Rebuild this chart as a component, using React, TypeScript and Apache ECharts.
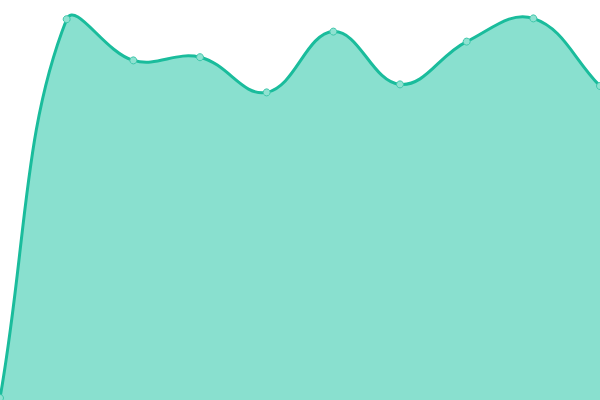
import * as echarts from "echarts";
import { useEffect, useRef } from "react";

const categories = ["1", "2", "3", "4", "5", "6", "7", "8", "9", "10"];
const values = [0.5, 95.2, 84.9, 85.7, 76.9, 92.1, 78.9, 89.6, 95.4, 78.5];

const lineColor = "#1abc9c";
const fillColor = "#89e0cf";
const tension = 0.4;

// spline through the points, with control points clamped to the plot box
function splinePath(pts: number[][], box: { x0: number; y0: number; x1: number; y1: number }) {
	const clampX = (v: number) => Math.min(box.x1, Math.max(box.x0, v));
	const clampY = (v: number) => Math.min(box.y1, Math.max(box.y0, v));
	const cps = pts.map((p, i) => {
		const prev = pts[i - 1] || p;
		const next = pts[i + 1] || p;
		const d01 = Math.hypot(p[0] - prev[0], p[1] - prev[1]);
		const d12 = Math.hypot(next[0] - p[0], next[1] - p[1]);
		const sum = d01 + d12;
		const fa = sum ? (tension * d01) / sum : 0;
		const fb = sum ? (tension * d12) / sum : 0;
		const dx = next[0] - prev[0];
		const dy = next[1] - prev[1];
		return {
			before: [clampX(p[0] - fa * dx), clampY(p[1] - fa * dy)],
			after: [clampX(p[0] + fb * dx), clampY(p[1] + fb * dy)],
		};
	});
	let d = `M${pts[0][0]},${pts[0][1]}`;
	for (let i = 1; i < pts.length; i++) {
		const a = cps[i - 1].after;
		const b = cps[i].before;
		d += ` C${a[0]},${a[1]} ${b[0]},${b[1]} ${pts[i][0]},${pts[i][1]}`;
	}
	return d;
}

export default function App() {
	const ref = useRef<HTMLDivElement>(null);
	useEffect(() => {
		document.body.style.margin = "0";
		if (!ref.current) return;
		const chart = echarts.init(ref.current, null, { renderer: "svg" });
		chart.setOption({
			animation: false,
			grid: { left: 0, right: 0, top: 0, bottom: 0 },
			xAxis: {
				type: "category",
				data: categories,
				boundaryGap: false,
				show: false,
			},
			yAxis: { type: "value", min: 0, max: 100, show: false },
			series: [
				{
					type: "custom",
					data: [0],
					silent: true,
					renderItem: (params: any, api: any) => {
						const pts = values.map((v, i) => api.coord([i, v]));
						const base = api.coord([0, 0])[1];
						const cs = params.coordSys;
						const box = { x0: cs.x, y0: cs.y, x1: cs.x + cs.width, y1: cs.y + cs.height };
						const line = splinePath(pts, box);
						const last = pts[pts.length - 1];
						const area = `${line} L${last[0]},${base} L${pts[0][0]},${base} Z`;
						return {
							type: "group",
							children: [
								{ type: "path", shape: { pathData: area }, style: { fill: fillColor, stroke: "none" } },
								{
									type: "path",
									shape: { pathData: line },
									style: { fill: "none", stroke: lineColor, lineWidth: 3 },
								},
							],
						};
					},
				},
				{
					type: "scatter",
					data: values,
					symbol: "circle",
					symbolSize: 7,
					z: 3,
					itemStyle: { color: "#8fe2d1", borderColor: "#3fc7ab", borderWidth: 1, opacity: 1 },
				},
			],
		});
		return () => chart.dispose();
	}, []);
	return <div ref={ref} style={{ width: 600, height: 400 }} />;
}
